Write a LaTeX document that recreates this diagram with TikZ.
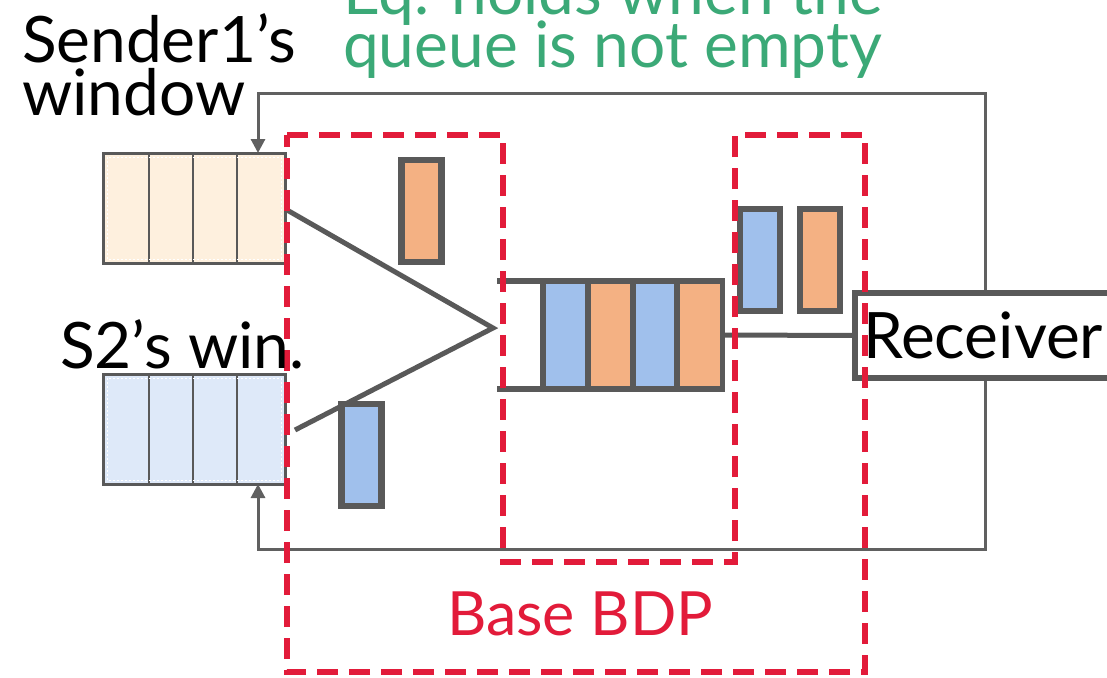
\documentclass[tikz,border=0pt]{standalone}
\usepackage{fontspec}
\setmainfont{Lato}
\usetikzlibrary{arrows.meta,calc}
\definecolor{dkgray}{HTML}{595959}
\definecolor{fbgray}{HTML}{606060}
\definecolor{bdpred}{HTML}{E21B3A}
\definecolor{eqgreen}{HTML}{3BA977}
\definecolor{pktorange}{HTML}{F4B183}
\definecolor{pktblue}{HTML}{A0C0EC}
\definecolor{winorange}{HTML}{FEF0DE}
\definecolor{winblue}{HTML}{DEE9F9}
\begin{document}
\begin{tikzpicture}[x=1pt,y=-1pt,
  every node/.style={outer sep=0pt},
  big/.style={font=\fontsize{64}{52}\selectfont, inner sep=0pt},
  lbl/.style={big, anchor=base west},
  fb/.style={draw=fbgray, line width=3pt},
  fbarrow/.style={fb, -{Triangle[length=14pt,width=14pt]}},
  winbox/.style={draw=dkgray, line width=3pt, minimum width=182pt, minimum height=110pt, anchor=north west, inner sep=0pt},
  celldiv/.style={draw=dkgray, line width=1.5pt},
  pkt/.style={draw=dkgray, line width=6.5pt, minimum width=40pt, minimum height=102pt, inner sep=0pt},
  funnel/.style={draw=dkgray, line width=5pt},
  bdp/.style={draw=bdpred, line width=6pt, dash pattern=on 21pt off 11pt},
]
\useasboundingbox (0,0) rectangle (1107,677);
\clip (0,0) rectangle (1107,677);

% sender windows
\node[winbox, fill=winorange] (w1) at (103,153) {};
\node[winbox, fill=winblue] (w2) at (103,374) {};
\foreach \w in {w1,w2}{
  \foreach \dx in {46,90,134}{
    \draw[celldiv] ($(\w.north west)+(\dx,0)$) -- ($(\w.south west)+(\dx,0)$);
  }
  \draw[white, line width=0.8pt, dash pattern=on 2pt off 2pt]
    ($(\w.north west)+(4,4)$) rectangle ($(\w.south east)+(-4,-4)$);
}

% feedback loops
\coordinate (rt) at (985,293);
\coordinate (rb) at (985,378);
\draw[fbarrow] (rt) -- (985,93) -- (258,93) -- ($(w1.north west)+(155,0)$);
\draw[fbarrow] (rb) -- (985,549) -- (258,549) -- ($(w2.south west)+(155,0)$);

% funnel
\coordinate (tip) at (493,328);
\draw[funnel] ($(w1.east)+(2,2)$) -- (tip) -- ($(w2.east)+(10,1)$);

% packets in flight
\node[pkt, fill=pktorange] (p1) at (421.5,211) {};
\node[pkt, fill=pktblue] (p2) at (361.5,455) {};

% queue
\node[draw=dkgray, line width=6pt, minimum width=179pt, minimum height=108pt, inner sep=0pt] (q) at (632.5,335) {};
\foreach \i/\c in {0/pktblue,1/pktorange,2/pktblue,3/pktorange}{
  \fill[\c] ($(q.north west)+(3+\i*44.5,3)$) rectangle ($(q.north west)+(3+\i*44.5+40,105)$);
}
\foreach \i in {1,2,3}{
  \draw[dkgray, line width=6pt] ($(q.north west)+(\i*44.5+0.5,0)$) -- ($(q.south west)+(\i*44.5+0.5,0)$);
}
\draw[dkgray, line width=6pt] (q.north west) -- ++(-46,0);
\draw[dkgray, line width=6pt] (q.south west) -- ++(-46,0);

% packets after queue
\node[pkt, fill=pktblue] (p3) at (760,260) {};
\node[pkt, fill=pktorange] (p4) at (820,260) {};

% receiver
\node[draw=dkgray, fill=white, line width=6pt, minimum height=85pt, text width=280pt, inner xsep=8pt, inner ysep=0pt, align=left, anchor=west, font=\fontsize{64}{52}\selectfont] (rcv) at (855,335.5) {Receiver};
\draw[dkgray, line width=5pt] (q.east) -- (rcv.west);

% base BDP region
\draw[bdp] (287,135) -- (503,135) -- (503,562) -- (735,562) -- (735,135) -- (865,135) -- (865,672) -- (287,672) -- cycle;
\node[lbl, text=bdpred, font=\fontsize{61}{52}\selectfont] (bdplbl) at (447,635) {Base BDP};

% labels
\node[lbl] (s1a) at (22,63) {Sender1’s};
\node[lbl] (s1b) at (22,115) {window};
\node[lbl] (s2) at (60,368) {S2’s win.};
\node[lbl, text=eqgreen] (eq1) at (343,15) {Eq. holds when the};
\node[lbl, text=eqgreen] (eq2) at (343,67) {queue is not empty};
\end{tikzpicture}
\end{document}
